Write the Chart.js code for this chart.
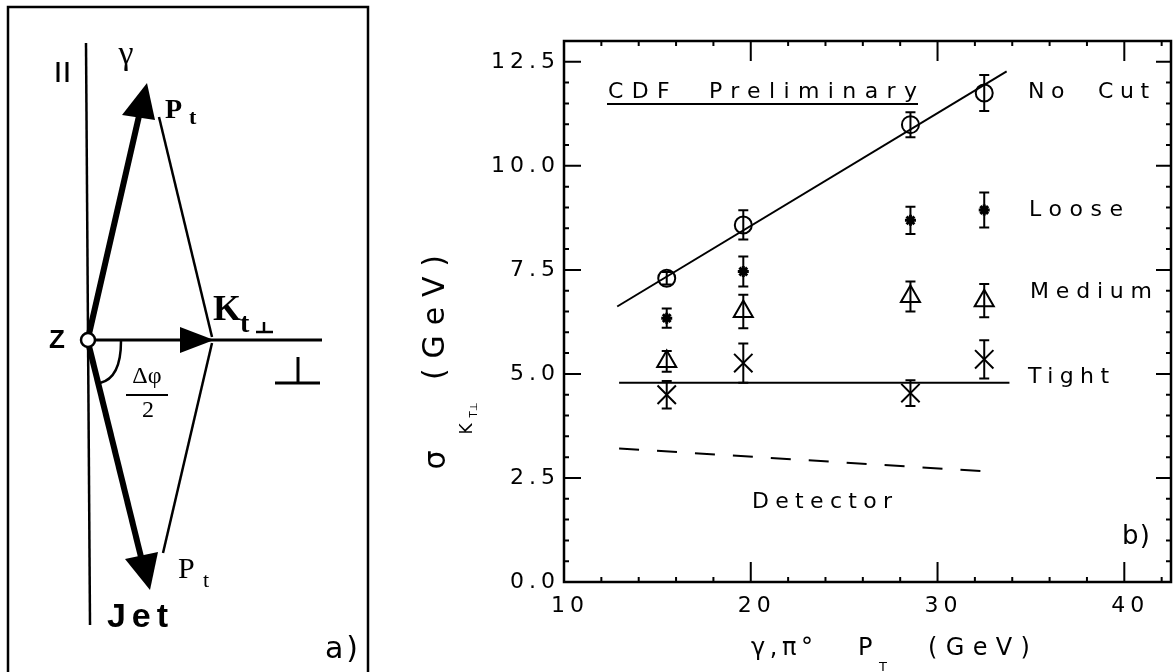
<!DOCTYPE html>
<html>
<head>
<meta charset="utf-8">
<script src="https://cdn.jsdelivr.net/npm/chart.js@4.4.1/dist/chart.umd.min.js"></script>
<style>
  html, body { margin: 0; padding: 0; background: #fff; }
  #wrap { width: 1173px; height: 672px; }
</style>
</head>
<body>
<div id="wrap"><canvas id="kt" width="1173" height="672"></canvas></div>
<script>
// photon / pi0 pT bins (GeV)
const ptValues = [15.5, 19.6, 28.55, 32.5];

// sigma(Kt_perp) in GeV for each isolation cut, with errors
const noCut = [7.30, 8.58, 10.99, 11.75];
const noCutErr = [0.15, 0.35, 0.30, 0.43];
const loose = [6.34, 7.46, 8.69, 8.94];
const looseErr = [0.23, 0.36, 0.33, 0.42];
const medium = [5.30, 6.50, 6.86, 6.76];
const mediumErr = [0.25, 0.40, 0.36, 0.40];
const tight = [4.50, 5.26, 4.54, 5.35];
const tightErr = [0.33, 0.47, 0.31, 0.46];

// fitted lines and detector resolution (end points)
const noCutFitX = [12.85, 33.7];
const noCutFitY = [6.62, 12.27];
const tightFitX = [12.95, 33.85];
const tightFitY = [4.79, 4.79];
const detectorX = [12.95, 32.9];
const detectorY = [3.21, 2.65];

const xTicks = [10, 20, 30, 40];
const yTicks = [0, 2.5, 5, 7.5, 10, 12.5];

const toPoints = (xs, ys) => xs.map((x, i) => ({ x: x, y: ys[i] }));

Chart.defaults.font.family = '"DejaVu Sans", sans-serif';
Chart.defaults.color = '#000';

// write text stretched with letter spacing so it fills a given width
function fitText(ctx, text, x, y, width) {
    ctx.letterSpacing = '0px';
    const w0 = ctx.measureText(text).width;
    const n = [...text].length;
    const s = n > 1 ? (width - w0) / (n - 1) : 0;
    ctx.letterSpacing = s.toFixed(2) + 'px';
    ctx.fillText(text, x, y);
    ctx.letterSpacing = '0px';
}

function line(ctx, x1, y1, x2, y2) {
    ctx.beginPath();
    ctx.moveTo(x1, y1);
    ctx.lineTo(x2, y2);
    ctx.stroke();
}

function tri(ctx, pts) {
    ctx.beginPath();
    ctx.moveTo(pts[0], pts[1]);
    ctx.lineTo(pts[2], pts[3]);
    ctx.lineTo(pts[4], pts[5]);
    ctx.closePath();
    ctx.fill();
}

// panel a): kinematics sketch
function drawDiagram(ctx) {
    ctx.save();
    ctx.letterSpacing = '0px';
    ctx.strokeStyle = '#000';
    ctx.fillStyle = '#000';

    // panel frame
    ctx.lineWidth = 2.5;
    ctx.beginPath();
    ctx.moveTo(8, 672); ctx.lineTo(8, 7); ctx.lineTo(368, 7); ctx.lineTo(368, 672);
    ctx.stroke();

    // parallel axis and its symbol
    ctx.lineWidth = 2.5;
    line(ctx, 86, 43, 90, 625);
    ctx.lineWidth = 3;
    line(ctx, 58, 62, 58, 82);
    line(ctx, 67, 62, 67, 82);

    // perpendicular axis
    ctx.lineWidth = 3;
    line(ctx, 95, 340, 322, 340);
    line(ctx, 275, 383, 320, 383);
    line(ctx, 298, 357, 298, 383);

    // thin lines from the Pt tips to Kt
    ctx.lineWidth = 2.5;
    line(ctx, 159, 117, 212, 337);
    line(ctx, 212, 343, 163, 553);

    // thick Pt arrows
    ctx.lineWidth = 6;
    line(ctx, 89, 334, 139, 116);
    line(ctx, 89, 346, 141, 557);
    tri(ctx, [147, 83, 122, 115, 155, 120]);
    tri(ctx, [150, 590, 125, 559, 158, 552]);
    tri(ctx, [214, 340, 180, 327, 180, 353]);

    // vertex
    ctx.lineWidth = 2.5;
    ctx.beginPath();
    ctx.arc(88, 340, 7, 0, Math.PI * 2);
    ctx.fillStyle = '#fff';
    ctx.fill();
    ctx.stroke();
    ctx.fillStyle = '#000';

    // angle arc
    ctx.beginPath();
    ctx.moveTo(121, 341);
    ctx.quadraticCurveTo(121, 378, 100, 383);
    ctx.stroke();

    // labels
    ctx.textBaseline = 'middle';
    ctx.textAlign = 'center';
    ctx.font = '34px "Liberation Serif"';
    ctx.fillText('\u03b3', 126, 55);
    ctx.font = 'bold 26px "Liberation Sans"';
    ctx.fillText('Z', 57, 341);

    ctx.textAlign = 'left';
    ctx.textBaseline = 'alphabetic';
    ctx.font = 'bold 28px "Liberation Serif"';
    ctx.fillText('P', 165, 118);
    ctx.font = 'bold 22px "Liberation Serif"';
    ctx.fillText('t', 189, 124);

    ctx.font = '30px "Liberation Serif"';
    ctx.fillText('P', 178, 578);
    ctx.font = '22px "Liberation Serif"';
    ctx.fillText('t', 203, 587);

    ctx.font = 'bold 36px "Liberation Serif"';
    ctx.fillText('K', 213, 320);
    ctx.font = 'bold 28px "Liberation Serif"';
    ctx.fillText('t', 240, 332);
    ctx.lineWidth = 2.5;
    line(ctx, 256, 332, 273, 332);
    line(ctx, 264, 322, 264, 332);

    ctx.textAlign = 'center';
    ctx.textBaseline = 'middle';
    ctx.font = '24px "Liberation Serif"';
    ctx.fillText('\u0394\u03c6', 147, 377);
    ctx.lineWidth = 2;
    line(ctx, 126, 395, 168, 395);
    ctx.fillText('2', 148, 411);

    ctx.textAlign = 'left';
    ctx.textBaseline = 'alphabetic';
    ctx.font = 'bold 34px "Liberation Sans"';
    fitText(ctx, 'Jet', 107, 627, 61);
    ctx.font = '30px "DejaVu Sans"';
    fitText(ctx, 'a)', 325, 658, 33);

    ctx.restore();
}

// inward tick marks on all four sides plus the frame
function drawFrame(chart) {
    const { ctx, chartArea: a, scales: { x, y } } = chart;
    ctx.save();
    ctx.strokeStyle = '#000';
    ctx.lineWidth = 2;
    ctx.beginPath();
    for (let i = 0; i <= 26; i++) {
        const v = i * 0.5;
        const py = y.getPixelForValue(v);
        const major = i % 5 === 0;
        ctx.moveTo(a.left, py); ctx.lineTo(a.left + (major ? 17 : 5), py);
        ctx.moveTo(a.right, py); ctx.lineTo(a.right - (major ? 15 : 5), py);
    }
    for (let v = 12; v <= 42; v += 2) {
        const px = x.getPixelForValue(v);
        const len = v % 10 === 0 ? 20 : 5;
        ctx.moveTo(px, a.bottom); ctx.lineTo(px, a.bottom - len);
        ctx.moveTo(px, a.top); ctx.lineTo(px, a.top + len);
    }
    ctx.stroke();
    ctx.lineWidth = 2.5;
    ctx.strokeRect(a.left, a.top, a.right - a.left, a.bottom - a.top);
    ctx.restore();
}

function drawLabels(chart) {
    const ctx = chart.ctx;
    ctx.save();
    ctx.fillStyle = '#000';
    ctx.strokeStyle = '#000';
    ctx.textAlign = 'left';
    ctx.textBaseline = 'middle';
    ctx.font = '22px "DejaVu Sans"';
    fitText(ctx, 'CDF  Preliminary', 608, 92, 309);
    ctx.lineWidth = 2;
    line(ctx, 607, 104, 918, 104);
    fitText(ctx, 'No  Cut', 1028, 92, 121);
    fitText(ctx, 'Loose', 1029, 210, 94);
    fitText(ctx, 'Medium', 1030, 292, 122);
    fitText(ctx, 'Tight', 1028, 377, 81);
    fitText(ctx, 'Detector', 752, 502, 140);
    ctx.font = '26px "DejaVu Sans"';
    fitText(ctx, 'b)', 1122, 537, 28);

    // x axis title
    ctx.textBaseline = 'alphabetic';
    ctx.font = '24px "DejaVu Sans"';
    fitText(ctx, '\u03b3,\u03c0\u00b0', 751, 655, 62);
    ctx.fillText('P', 858, 655);
    ctx.font = '13px "DejaVu Sans"';
    ctx.fillText('T', 879, 671);
    ctx.font = '24px "DejaVu Sans"';
    fitText(ctx, '(GeV)', 928, 655, 102);

    // y axis title, rotated
    ctx.rotate(-Math.PI / 2);
    ctx.textAlign = 'center';
    ctx.textBaseline = 'middle';
    ctx.font = '30px "DejaVu Sans"';
    ctx.fillText('\u03c3', -460, 437);
    ctx.font = '17px "DejaVu Sans"';
    ctx.fillText('K', -429, 468);
    ctx.font = '10px "DejaVu Sans"';
    ctx.fillText('T\u22a5', -410, 474);
    ctx.font = '30px "DejaVu Sans"';
    ctx.textAlign = 'left';
    fitText(ctx, '(GeV)', -380, 436, 125);
    ctx.restore();
}

const figurePlugin = {
    id: 'figure',
    beforeUpdate(chart) { chart.ctx.letterSpacing = '5px'; },
    beforeDraw(chart) { chart.ctx.letterSpacing = '5px'; },
    beforeDatasetsDraw(chart) { drawFrame(chart); },
    afterDatasetsDraw(chart) {
        const { ctx, scales: { x, y } } = chart;
        ctx.save();
        ctx.strokeStyle = '#000';
        ctx.lineWidth = 2;
        chart.data.datasets.forEach(ds => {
            if (!ds.errors) return;
            ds.data.forEach((p, i) => {
                const px = x.getPixelForValue(p.x);
                const top = y.getPixelForValue(p.y + ds.errors[i]);
                const bot = y.getPixelForValue(p.y - ds.errors[i]);
                ctx.beginPath();
                ctx.moveTo(px, top); ctx.lineTo(px, bot);
                ctx.moveTo(px - 5, top); ctx.lineTo(px + 5, top);
                ctx.moveTo(px - 5, bot); ctx.lineTo(px + 5, bot);
                ctx.stroke();
            });
        });
        ctx.restore();
    },
    afterDraw(chart) {
        drawLabels(chart);
        drawDiagram(chart.ctx);
        chart.ctx.letterSpacing = '5px';
    }
};

const markerSet = (label, values, errors, style, radius, fill, width) => ({
    label: label,
    data: toPoints(ptValues, values),
    errors: errors,
    pointStyle: style,
    pointRadius: radius,
    pointBorderColor: '#000',
    pointBackgroundColor: fill,
    pointBorderWidth: width,
    showLine: false
});

const lineSet = (label, xs, ys, dash) => ({
    label: label,
    data: toPoints(xs, ys),
    showLine: true,
    pointRadius: 0,
    borderColor: '#000',
    borderWidth: 2,
    borderDash: dash
});

new Chart(document.getElementById('kt'), {
    type: 'scatter',
    data: {
        datasets: [
            markerSet('No Cut', noCut, noCutErr, 'circle', 8.5, 'rgba(0,0,0,0)', 2),
            markerSet('Loose', loose, looseErr, 'star', 5.5, '#000', 3),
            markerSet('Medium', medium, mediumErr, 'triangle', 11, 'rgba(0,0,0,0)', 2),
            markerSet('Tight', tight, tightErr, 'crossRot', 13, '#000', 2),
            lineSet('No Cut fit', noCutFitX, noCutFitY, []),
            lineSet('Tight fit', tightFitX, tightFitY, []),
            lineSet('Detector', detectorX, detectorY, [20, 18])
        ]
    },
    options: {
        responsive: false,
        animation: false,
        events: [],
        layout: { autoPadding: false, padding: { left: 400, top: 41, right: 2, bottom: 0 } },
        plugins: {
            legend: { display: false },
            tooltip: { enabled: false }
        },
        scales: {
            x: {
                type: 'linear',
                min: 10,
                max: 42.5,
                afterBuildTicks: s => { s.ticks = xTicks.map(v => ({ value: v })); },
                afterFit: s => { s.height = 90; s.paddingLeft = 0; s.paddingRight = 0; },
                grid: { display: false, drawTicks: false },
                border: { display: false },
                ticks: {
                    font: { size: 22 },
                    padding: 11,
                    maxRotation: 0,
                    autoSkip: false,
                    callback: v => ' ' + v
                }
            },
            y: {
                type: 'linear',
                min: 0,
                max: 13,
                afterBuildTicks: s => { s.ticks = yTicks.map(v => ({ value: v })); },
                afterFit: s => { s.width = 164; s.paddingTop = 0; s.paddingBottom = 0; },
                grid: { display: false, drawTicks: false },
                border: { display: false },
                ticks: {
                    font: { size: 22 },
                    padding: 4,
                    autoSkip: false,
                    callback: v => v.toFixed(1)
                }
            }
        }
    },
    plugins: [figurePlugin]
});
</script>
</body>
</html>
